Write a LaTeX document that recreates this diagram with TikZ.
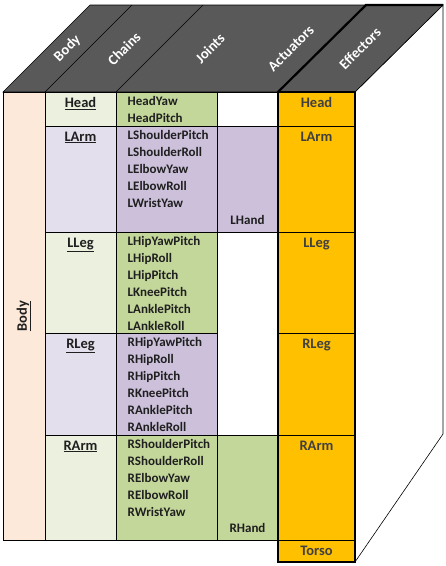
\documentclass[tikz,border=0pt]{standalone}
\usepackage{fontspec}
\setmainfont{Carlito}
\usepackage{tikz}
\usetikzlibrary{positioning}
\definecolor{naoheader}{HTML}{595959}
\definecolor{naobody}{HTML}{FDE9D9}
\definecolor{naochaingreen}{HTML}{EBF1DE}
\definecolor{naochainpurple}{HTML}{E4DFEC}
\definecolor{naojointgreen}{HTML}{C4D79B}
\definecolor{naojointpurple}{HTML}{CCC0DA}
\definecolor{naoeffector}{HTML}{FFC000}
\definecolor{naotext}{HTML}{1F1F1F}
\definecolor{naoefftext}{HTML}{404040}

\begin{document}
\begin{tikzpicture}[x=1pt, y=-1pt,
  cell/.style={draw=black, line width=0.6pt, anchor=north west,
    inner sep=0pt, outer sep=0pt},
  chainlbl/.style={font=\fontsize{14.5}{16}\selectfont\bfseries,
    text=naotext, inner sep=0pt},
  jointlbl/.style={font=\fontsize{13}{17}\selectfont\bfseries,
    text=naotext, align=left, inner sep=0pt},
  efflbl/.style={font=\fontsize{14.5}{16}\selectfont\bfseries,
    text=naoefftext, inner sep=0pt},
  headlbl/.style={font=\fontsize{14.5}{16}\selectfont\bfseries,
    text=white, rotate=45, inner sep=0pt}]
  \useasboundingbox (0,0) rectangle (446,566);
  % side face and top
  \filldraw[fill=white, draw=black, line width=0.6pt]
    (355,92) -- (443,5) -- (443,434) -- (355,562);
  \filldraw[fill=naoheader, draw=black, line width=0.6pt]
    (3,92) -- (90,5) -- (443,5) -- (355,92) -- cycle;
  \draw[line width=0.6pt] (45,92) -- (132,5) (116,92) -- (203,5);
  \draw[line width=2.2pt] (278,92) -- (366,5) -- (443,5);
  \node[headlbl] (hBody) at (67.5,48.5) {Body};
  \node[headlbl] (hChains) at (124,48.5) {Chains};
  \node[headlbl] (hJoints) at (210,48.5) {Joints};
  \node[headlbl] (hActuators) at (291,48.5) {Actuators};
  \node[headlbl] (hEffectors) at (360,48.5) {Effectors};

  % body
  \node[cell, fill=naobody, minimum width=42pt, minimum height=448pt] (body) at (3,92) {};
  % chains
  \node[cell, fill=naochaingreen, minimum width=71pt, minimum height=34pt] (cHead) at (45,92) {};
  \node[cell, fill=naochainpurple, minimum width=71pt, minimum height=106pt] (cLArm) at (45,126) {};
  \node[cell, fill=naochaingreen, minimum width=71pt, minimum height=101pt] (cLLeg) at (45,232) {};
  \node[cell, fill=naochainpurple, minimum width=71pt, minimum height=102pt] (cRLeg) at (45,333) {};
  \node[cell, fill=naochaingreen, minimum width=71pt, minimum height=105pt] (cRArm) at (45,435) {};
  % joints
  \node[cell, fill=naojointgreen, minimum width=101pt, minimum height=34pt] (jHead) at (116,92) {};
  \node[cell, fill=naojointpurple, minimum width=101pt, minimum height=106pt] (jLArm) at (116,126) {};
  \node[cell, fill=naojointgreen, minimum width=101pt, minimum height=101pt] (jLLeg) at (116,232) {};
  \node[cell, fill=naojointpurple, minimum width=101pt, minimum height=102pt] (jRLeg) at (116,333) {};
  \node[cell, fill=naojointgreen, minimum width=101pt, minimum height=105pt] (jRArm) at (116,435) {};
  % actuators
  \node[cell, fill=white, minimum width=61pt, minimum height=34pt] (aHead) at (217,92) {};
  \node[cell, fill=naojointpurple, minimum width=61pt, minimum height=106pt] (aLArm) at (217,126) {};
  \node[cell, fill=white, minimum width=61pt, minimum height=203pt] (aLegs) at (217,232) {};
  \node[cell, fill=naojointgreen, minimum width=61pt, minimum height=105pt] (aRArm) at (217,435) {};
  % effectors
  \node[cell, fill=naoeffector, minimum width=77pt, minimum height=34pt] (eHead) at (278,92) {};
  \node[cell, fill=naoeffector, minimum width=77pt, minimum height=106pt] (eLArm) at (278,126) {};
  \node[cell, fill=naoeffector, minimum width=77pt, minimum height=101pt] (eLLeg) at (278,232) {};
  \node[cell, fill=naoeffector, minimum width=77pt, minimum height=102pt] (eRLeg) at (278,333) {};
  \node[cell, fill=naoeffector, minimum width=77pt, minimum height=105pt] (eRArm) at (278,435) {};
  \node[cell, fill=naoeffector, minimum width=77pt, minimum height=22pt] (eTorso) at (278,540) {};
  \draw[line width=2.5pt] (eHead.north west) rectangle (eTorso.south east);

  % labels
  \node[chainlbl, rotate=90] (lBody) at (body) {\underline{Body}};
  \node[chainlbl, below=5.5pt of cHead.north] (lcHead) {\underline{Head}};
  \node[chainlbl, below=5.5pt of cLArm.north] (lcLArm) {\underline{LArm}};
  \node[chainlbl, below=5.5pt of cLLeg.north] (lcLLeg) {\underline{LLeg}};
  \node[chainlbl, below=5.5pt of cRLeg.north] (lcRLeg) {\underline{RLeg}};
  \node[chainlbl, below=5.5pt of cRArm.north] (lcRArm) {\underline{RArm}};

  \node[jointlbl, below right=4.5pt and 11.5pt of jHead.north west] (ljHead)
    {HeadYaw\\HeadPitch};
  \node[jointlbl, below right=4.5pt and 11.5pt of jLArm.north west] (ljLArm)
    {LShoulderPitch\\LShoulderRoll\\LElbowYaw\\LElbowRoll\\LWristYaw};
  \node[jointlbl, below right=4.5pt and 11.5pt of jLLeg.north west] (ljLLeg)
    {LHipYawPitch\\LHipRoll\\LHipPitch\\LKneePitch\\LAnklePitch\\LAnkleRoll};
  \node[jointlbl, below right=4.5pt and 11.5pt of jRLeg.north west] (ljRLeg)
    {RHipYawPitch\\RHipRoll\\RHipPitch\\RKneePitch\\RAnklePitch\\RAnkleRoll};
  \node[jointlbl, below right=4.5pt and 11.5pt of jRArm.north west] (ljRArm)
    {RShoulderPitch\\RShoulderRoll\\RElbowYaw\\RElbowRoll\\RWristYaw};

  \node[jointlbl, above=7pt of aLArm.south] (laLHand) {LHand};
  \node[jointlbl, above=7pt of aRArm.south] (laRHand) {RHand};

  \node[efflbl, below=5.5pt of eHead.north] (leHead) {Head};
  \node[efflbl, below=5.5pt of eLArm.north] (leLArm) {LArm};
  \node[efflbl, below=5.5pt of eLLeg.north] (leLLeg) {LLeg};
  \node[efflbl, below=5.5pt of eRLeg.north] (leRLeg) {RLeg};
  \node[efflbl, below=5.5pt of eRArm.north] (leRArm) {RArm};
  \node[efflbl] (leTorso) at (eTorso) {Torso};
\end{tikzpicture}
\end{document}
